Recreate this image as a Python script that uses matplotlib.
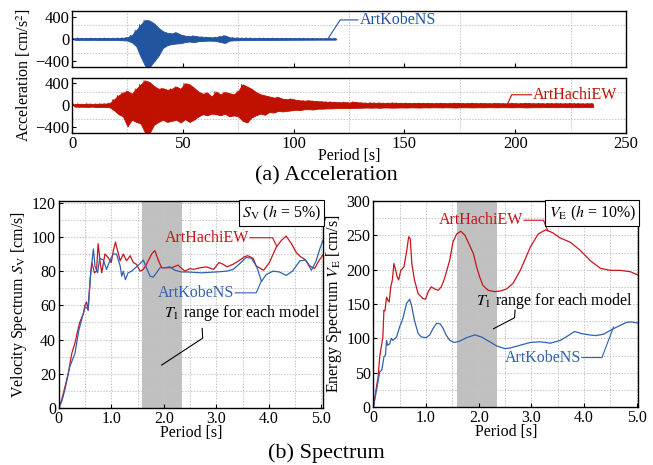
import numpy as np
import matplotlib
matplotlib.use('Agg')
import matplotlib.pyplot as plt
from matplotlib.ticker import MultipleLocator, FuncFormatter

plt.rcParams['font.family'] = ['Liberation Serif', 'DejaVu Serif']
plt.rcParams['mathtext.fontset'] = 'stix'

# acceleration records: peak (hi) and trough (lo) per 2 s window
acc_step = 2.0
kobe_hi = [15, 18, 14, 16, 18, 15, 17, 20, 16, 18, 20, 22, 30,
           70, 160, 260, 340, 330, 280, 200, 140, 110, 100, 120, 80, 60, 50, 60, 45, 40,
           35, 30, 35, 50, 65, 30,
           25, 22, 20, 22, 20, 18, 20, 18, 16, 18, 16, 15, 16, 15, 14, 15, 14, 13, 14, 13, 12, 13, 12, 12]
kobe_lo = [-14, -16, -15, -18, -15, -16, -18, -17, -18, -16, -20, -22, -28,
           -60, -130, -320, -480, -500, -400, -300, -160, -110, -90, -80, -75, -55, -45, -55, -40, -35,
           -30, -30, -35, -55, -70, -30,
           -24, -22, -20, -20, -19, -18, -18, -17, -16, -17, -16, -15, -15, -14, -14, -14, -13, -13, -13, -12,
           -12, -12, -12, -11]
hachi_hi = [25, 28, 24, 30, 26, 28, 30, 32, 40,
            110, 180, 230, 260, 210, 300, 380, 450, 420, 350, 300,
            310, 280, 300, 340, 300, 400, 380, 320, 250, 210,
            230, 160, 250, 200, 240, 220, 200, 260, 380, 340,
            300, 240, 200, 180, 160, 140, 150, 120, 110, 120,
            100, 90, 85, 90, 80, 75, 70, 65, 65, 60,
            55, 60, 50, 65, 55, 50,
            45, 50, 45, 48, 42, 45, 48, 44, 42, 45, 40, 42, 44, 40, 42, 38, 40, 42, 38, 40,
            45, 40, 38, 40, 42, 38, 40, 38, 36, 40, 38, 36, 38, 40, 36, 38, 42, 38, 36, 38,
            35, 38, 36, 38, 35, 36, 38, 35, 36, 34, 36, 35]
hachi_lo = [-22, -26, -25, -28, -24, -30, -28, -30, -35,
            -90, -160, -200, -380, -260, -300, -330, -500, -500, -350, -300,
            -260, -300, -280, -260, -310, -250, -300, -260, -200, -160,
            -180, -150, -160, -180, -150, -200, -180, -200, -280, -310,
            -220, -180, -150, -170, -120, -130, -100, -110, -100, -90,
            -80, -85, -70, -70, -75, -60, -60, -55, -55, -50,
            -50, -48, -50, -45, -45, -42,
            -40, -42, -40, -44, -38, -40, -42, -40, -38, -40, -36, -38, -40, -36, -38, -35, -36, -38, -35, -36,
            -40, -36, -35, -36, -38, -35, -36, -34, -33, -36, -34, -33, -35, -36, -33, -34, -38, -34, -33, -34,
            -32, -34, -33, -34, -32, -33, -34, -32, -33, -31, -33, -32]

# velocity spectrum Sv (h = 5%)
T_sv_hachi = [0, 0.05, 0.1, 0.18, 0.25, 0.31, 0.36, 0.40, 0.44, 0.47, 0.50, 0.53, 0.56, 0.60, 0.63, 0.68, 0.72,
              0.75, 0.79, 0.82, 0.88, 0.94, 1.0, 1.04, 1.08, 1.12, 1.17, 1.23, 1.29, 1.36, 1.42, 1.48, 1.55,
              1.61, 1.67, 1.72, 1.77, 1.83, 1.90, 1.96, 2.05, 2.15, 2.27, 2.40, 2.50, 2.56, 2.70, 2.81, 2.95,
              3.05, 3.13, 3.20, 3.32, 3.45, 3.54, 3.60, 3.70, 3.76, 3.90, 4.01, 4.14, 4.24, 4.33, 4.43, 4.52,
              4.60, 4.68, 4.78, 4.87, 4.95, 5.03]
sv_hachi = [0, 4, 10, 20, 32, 38, 45, 50, 53, 55, 60, 62, 57, 76, 85, 79, 80,
            96, 85, 79, 90, 88, 85, 92, 97, 92, 86, 90, 86, 89, 85, 84, 80,
            81, 84, 87, 90, 92, 86, 82, 82, 82, 83.5, 80, 81.5, 81, 82, 82.5, 81,
            85, 84, 82.5, 84, 86.5, 88.5, 89, 87.5, 83, 80.5, 85, 94, 98, 100.5, 96, 91,
            88.5, 87, 83, 81.5, 86, 89.5]
T_sv_kobe = [0, 0.06, 0.12, 0.21, 0.31, 0.38, 0.44, 0.50, 0.56, 0.61, 0.66, 0.69, 0.74, 0.78, 0.85, 0.91,
             0.98, 1.04, 1.10, 1.17, 1.20, 1.23, 1.27, 1.32, 1.39, 1.48, 1.55, 1.61, 1.67, 1.74, 1.80, 1.86,
             1.93, 2.02, 2.12, 2.21, 2.34, 2.46, 2.70, 3.00, 3.20, 3.32, 3.45, 3.57, 3.67, 3.77, 3.86, 3.95,
             4.08, 4.20, 4.33, 4.45, 4.59, 4.70, 4.81, 4.90, 4.97, 5.03]
sv_kobe = [0, 4, 11, 24, 32, 45, 52, 59, 58, 79, 93, 83, 79, 87.5, 86.5, 81,
           86.5, 90, 90, 83, 77, 80, 75, 79, 80, 82.5, 84.5, 86.5, 82, 77, 76.5, 79,
           82, 82, 82.5, 80.5, 79.5, 79.5, 79, 79.5, 80, 81, 84.5, 88, 87.5, 82.5, 74, 78,
           80, 79.5, 77.5, 80, 86, 86.5, 80.5, 86, 93, 98]

# energy spectrum VE (h = 10%)
T_ve_hachi = [0, 0.05, 0.09, 0.12, 0.18, 0.20, 0.22, 0.25, 0.28, 0.30, 0.33, 0.36, 0.39, 0.42, 0.45, 0.48,
              0.52, 0.58, 0.63, 0.67, 0.70, 0.73, 0.78, 0.85, 0.94, 0.99, 1.04, 1.10, 1.16, 1.23, 1.29, 1.35,
              1.45, 1.51, 1.58, 1.66, 1.74, 1.83, 1.90, 1.96, 2.02, 2.08, 2.18, 2.30, 2.41, 2.53, 2.65, 2.79,
              2.98, 3.13, 3.27, 3.40, 3.55, 3.74, 3.93, 4.12, 4.31, 4.50, 4.69, 4.88, 5.03]
ve_hachi = [0, 25, 44, 73, 102, 141, 140, 160, 155, 153, 175, 185, 209, 200, 190, 185,
            199, 204, 226, 248, 245, 209, 185, 165, 158, 157, 168, 175, 172, 170, 175, 187,
            214, 240, 252, 256, 250, 235, 223, 204, 189, 177, 170, 168, 169, 172, 180, 199,
            233, 252, 258, 254, 246, 240, 228, 213, 202, 199, 199, 197, 192]
T_ve_kobe = [0, 0.06, 0.12, 0.16, 0.20, 0.23, 0.25, 0.27, 0.31, 0.34, 0.37, 0.44, 0.50, 0.56, 0.63, 0.69,
             0.73, 0.78, 0.85, 0.91, 1.00, 1.07, 1.13, 1.20, 1.27, 1.32, 1.38, 1.45, 1.54, 1.64, 1.77, 1.93,
             2.05, 2.21, 2.34, 2.50, 2.60, 2.79, 2.98, 3.17, 3.36, 3.55, 3.70, 3.82, 3.95, 4.10, 4.22, 4.37,
             4.53, 4.69, 4.80, 4.90, 5.03]
ve_kobe = [0, 25, 51, 54, 73, 76, 97, 90, 92, 100, 97, 102, 117, 129, 151, 157,
           146, 126, 107, 102, 101, 105, 114, 122, 121, 115, 105, 97, 94, 96, 101, 105,
           102, 95, 89, 85, 86, 90, 94, 95, 93, 97, 104, 110, 107, 105, 104, 106,
           113, 119, 123, 124, 122]

t1_range = (1.59, 2.34)

RED = '#c8141b'
BLUE = '#2f62b0'
GRID = dict(color='#c4c4c4', linestyle=(0, (1.5, 1.5)), linewidth=0.7)


def zigzag(hi, lo, step):
    n = len(hi)
    t = np.repeat(np.arange(n) * step, 2) + np.tile([0.25, 0.75], n) * step
    a = np.column_stack([hi, lo]).ravel()
    return t, a


def style_axes(ax, size):
    ax.tick_params(direction='in', length=3, width=0.8, labelsize=size, pad=2)
    ax.tick_params(which='minor', length=0)
    for s in ax.spines.values():
        s.set_linewidth(1.0)
    ax.set_axisbelow(True)


fig = plt.figure(figsize=(6.53, 4.65), dpi=100)

# ---- (a) acceleration
ax1 = fig.add_axes([0.1103, 0.8559, 0.8484, 0.1204])
ax2 = fig.add_axes([0.1103, 0.7140, 0.8484, 0.1189])
for ax, hi, lo, col in [(ax1, kobe_hi, kobe_lo, '#2255a0'), (ax2, hachi_hi, hachi_lo, '#c01000')]:
    tc = (np.arange(len(hi)) + 0.5) * acc_step
    ax.fill_between(tc, lo, hi, color=col, linewidth=0.6, edgecolor=col)
    t, a = zigzag(hi, lo, acc_step)
    ax.plot(t, a, color=col, linewidth=0.6)
    ax.set_xlim(0, 250)
    ax.set_ylim(-500, 500)
    ax.set_yticks([-400, 0, 400])
    ax.xaxis.set_major_locator(MultipleLocator(50))
    ax.xaxis.set_minor_locator(MultipleLocator(25))
    ax.set_yticks([-250, 0, 250], minor=True)
    ax.grid(which='minor', **GRID)
    style_axes(ax, 12)
ax1.set_xticklabels([])
ax2.set_xlabel('Period [s]', fontsize=11.5, labelpad=-3)

ax1.plot([129, 121, 115.7], [341, 341, 18], color='#2255a0', linewidth=0.8)
ax1.text(130, 341, 'ArtKobeNS', color='#2255a0', fontsize=11.5, va='center', ha='left')
ax2.plot([207.4, 198.4, 196.4], [191, 191, 11], color='#c01000', linewidth=0.8)
ax2.text(208, 191, 'ArtHachiEW', color='#c01000', fontsize=11.5, va='center', ha='left')

fig.text(0.036, 0.838, 'Acceleration [cm/s$^2$]', rotation=90, fontsize=11.5, ha='center', va='center')
fig.text(0.5, 0.622, '(a) Acceleration', fontsize=16, ha='center', va='center')

# ---- (b) spectra
ax3 = fig.add_axes([0.0899, 0.1226, 0.4047, 0.4452])
ax4 = fig.add_axes([0.5718, 0.1247, 0.4057, 0.4430])


def fmt_period(v, pos):
    return '0' if abs(v) < 1e-9 else f'{v:.1f}'


for ax in (ax3, ax4):
    ax.axvspan(*t1_range, color='#c0c0c0', linewidth=0, zorder=0.5)
    ax.set_xlim(0, 5.03)
    ax.xaxis.set_major_locator(MultipleLocator(1.0))
    ax.xaxis.set_minor_locator(MultipleLocator(0.5))
    ax.xaxis.set_major_formatter(FuncFormatter(fmt_period))
    ax.grid(which='both', **GRID)
    style_axes(ax, 11.5)
    ax.set_xlabel('Period [s]', fontsize=11.5, labelpad=-1)

ax3.plot(T_sv_hachi, sv_hachi, color=RED, linewidth=0.9)
ax3.plot(T_sv_kobe, sv_kobe, color=BLUE, linewidth=0.9)
ax3.set_ylim(0, 121)
ax3.yaxis.set_major_locator(MultipleLocator(20))
ax3.yaxis.set_minor_locator(MultipleLocator(10))
ax3.set_ylabel('Velocity Spectrum $S_{\\rm V}$ [cm/s]', fontsize=11.5, labelpad=2)

ax3.plot([3.64, 4.07, 4.15], [99.5, 99.5, 94.5], color=RED, linewidth=0.8)
ax3.text(3.62, 99.5, 'ArtHachiEW', color=RED, fontsize=11.5, ha='right', va='center')
ax3.plot([3.36, 3.76, 3.86], [67.3, 67.3, 74.5], color=BLUE, linewidth=0.8)
ax3.text(3.34, 67.3, 'ArtKobeNS', color=BLUE, fontsize=11.5, ha='right', va='center')
ax3.text(3.49, 55.5, '$T_1$ range for each model', fontsize=11.5, ha='center', va='center')
ax3.plot([2.73, 2.74, 1.96], [46.5, 40.8, 25.1], color='black', linewidth=0.8)
ax3.text(0.992, 0.988, '$S_{\\rm V}$ ($h$ = 5%)', transform=ax3.transAxes, fontsize=11.5,
         ha='right', va='top', bbox=dict(boxstyle='square,pad=0.2', fc='white', ec='black', lw=0.8))

ax4.plot(T_ve_hachi, ve_hachi, color=RED, linewidth=0.9)
ax4.plot(T_ve_kobe, ve_kobe, color=BLUE, linewidth=0.9)
ax4.set_ylim(0, 300)
ax4.yaxis.set_major_locator(MultipleLocator(50))
ax4.yaxis.set_minor_locator(MultipleLocator(25))
ax4.set_ylabel('Energy Spectrum $V_{\\rm E}$ [cm/s]', fontsize=11.5, labelpad=2)

ax4.plot([2.86, 3.23, 3.31], [272, 272, 257], color=RED, linewidth=0.8)
ax4.text(2.84, 272, 'ArtHachiEW', color=RED, fontsize=11.5, ha='right', va='center')
ax4.plot([3.96, 4.34, 4.56], [72, 72, 116.7], color=BLUE, linewidth=0.8)
ax4.text(3.94, 72, 'ArtKobeNS', color=BLUE, fontsize=11.5, ha='right', va='center')
ax4.text(3.43, 154, '$T_1$ range for each model', fontsize=11.5, ha='center', va='center')
ax4.plot([2.69, 2.68, 2.28], [141, 130, 114], color='black', linewidth=0.8)
ax4.text(0.992, 0.988, '$V_{\\rm E}$ ($h$ = 10%)', transform=ax4.transAxes, fontsize=11.5,
         ha='right', va='top', bbox=dict(boxstyle='square,pad=0.2', fc='white', ec='black', lw=0.8))

fig.text(0.5, 0.026, '(b) Spectrum', fontsize=16, ha='center', va='center')

fig.savefig('out.png', dpi=100)
